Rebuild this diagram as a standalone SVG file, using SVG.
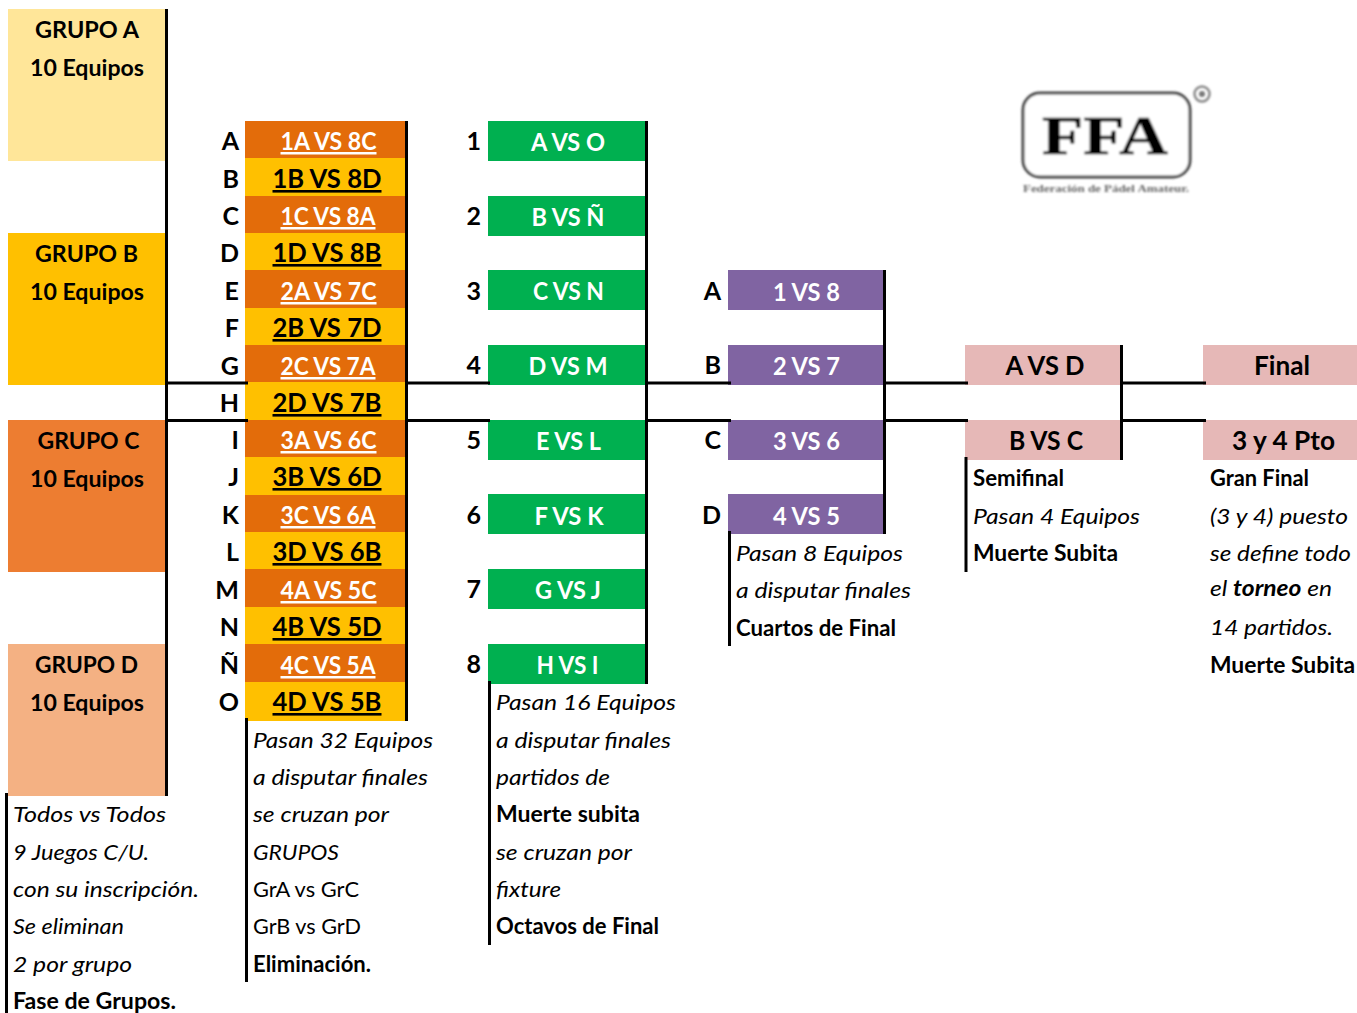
<svg xmlns="http://www.w3.org/2000/svg" width="1357" height="1013" viewBox="0 0 1357 1013">
<style>
text{font-family:Lato,"Open Sans","Liberation Sans",sans-serif;fill:#000;font-size:23px}
.b{font-weight:700}
.i{font-style:italic;font-size:22px}
.c{text-anchor:middle;font-weight:700}
.r{text-anchor:end;font-weight:700;font-size:25px}
.m{text-anchor:middle;font-weight:700;font-size:25px;text-decoration:underline;text-decoration-thickness:3px}
.w{fill:#fff}
.t{font-size:24px}
.p{font-size:26px}
.o{fill:#E36C0A}.y{fill:#FFC000}.g{fill:#00B050}.u{fill:#8064A2}.k{fill:#E6B8B7}
.l{stroke:#000;stroke-width:3;fill:none}
</style>
<defs><filter id="soft" x="-5%" y="-5%" width="110%" height="110%"><feGaussianBlur stdDeviation="0.9"/></filter></defs>

<g id="grupo-a"><rect x="8" y="9" width="157" height="152" fill="#FFE699"/><text class="c" x="87" y="38" textLength="104" lengthAdjust="spacingAndGlyphs">GRUPO A</text><text class="c" x="87" y="76" textLength="114" lengthAdjust="spacingAndGlyphs">10 Equipos</text></g>
<g id="grupo-b"><rect x="8" y="233" width="157" height="152" fill="#FFC000"/><text class="c" x="86.500" y="262" textLength="103" lengthAdjust="spacingAndGlyphs">GRUPO B</text><text class="c" x="87" y="300" textLength="114" lengthAdjust="spacingAndGlyphs">10 Equipos</text></g>
<g id="grupo-c"><rect x="8" y="420" width="157" height="152" fill="#ED7D31"/><text class="c" x="88.500" y="449" textLength="102" lengthAdjust="spacingAndGlyphs">GRUPO C</text><text class="c" x="87" y="487" textLength="114" lengthAdjust="spacingAndGlyphs">10 Equipos</text></g>
<g id="grupo-d"><rect x="8" y="644" width="157" height="152" fill="#F4B183"/><text class="c" x="86.500" y="673" textLength="103" lengthAdjust="spacingAndGlyphs">GRUPO D</text><text class="c" x="87" y="711" textLength="114" lengthAdjust="spacingAndGlyphs">10 Equipos</text></g>

<g id="cruces">
<g id="m-a"><rect x="245" y="121" width="160" height="37.500" class="o"/><text class="r" x="239" y="150">A</text><text class="m w" x="328.500" y="150" textLength="96" lengthAdjust="spacingAndGlyphs">1A VS 8C</text></g>
<g id="m-b"><rect x="245" y="158" width="160" height="38" class="y"/><text class="r" x="239" y="188">B</text><text class="m p" x="327" y="188" textLength="109" lengthAdjust="spacingAndGlyphs">1B VS 8D</text></g>
<g id="m-c"><rect x="245" y="196" width="160" height="37.500" class="o"/><text class="r" x="239" y="225">C</text><text class="m w" x="328" y="225" textLength="95" lengthAdjust="spacingAndGlyphs">1C VS 8A</text></g>
<g id="m-d"><rect x="245" y="233" width="160" height="37.500" class="y"/><text class="r" x="239" y="262">D</text><text class="m p" x="327" y="262" textLength="109" lengthAdjust="spacingAndGlyphs">1D VS 8B</text></g>
<g id="m-e"><rect x="245" y="270" width="160" height="38" class="o"/><text class="r" x="239" y="300">E</text><text class="m w" x="328.500" y="300" textLength="96" lengthAdjust="spacingAndGlyphs">2A VS 7C</text></g>
<g id="m-f"><rect x="245" y="308" width="160" height="37.500" class="y"/><text class="r" x="239" y="337">F</text><text class="m p" x="327" y="337" textLength="109" lengthAdjust="spacingAndGlyphs">2B VS 7D</text></g>
<g id="m-g"><rect x="245" y="345" width="160" height="37.500" class="o"/><text class="r" x="239" y="375">G</text><text class="m w" x="328" y="375" textLength="95" lengthAdjust="spacingAndGlyphs">2C VS 7A</text></g>
<g id="m-h"><rect x="245" y="382" width="160" height="38" class="y"/><text class="r" x="239" y="412">H</text><text class="m p" x="327" y="412" textLength="109" lengthAdjust="spacingAndGlyphs">2D VS 7B</text></g>
<g id="m-i"><rect x="245" y="420" width="160" height="37.500" class="o"/><text class="r" x="239" y="449">I</text><text class="m w" x="328.500" y="449" textLength="96" lengthAdjust="spacingAndGlyphs">3A VS 6C</text></g>
<g id="m-j"><rect x="245" y="457" width="160" height="38" class="y"/><text class="r" x="239" y="486">J</text><text class="m p" x="327" y="486" textLength="109" lengthAdjust="spacingAndGlyphs">3B VS 6D</text></g>
<g id="m-k"><rect x="245" y="495" width="160" height="37.500" class="o"/><text class="r" x="239" y="524">K</text><text class="m w" x="328" y="524" textLength="95" lengthAdjust="spacingAndGlyphs">3C VS 6A</text></g>
<g id="m-l"><rect x="245" y="532" width="160" height="37.500" class="y"/><text class="r" x="239" y="561">L</text><text class="m p" x="327" y="561" textLength="109" lengthAdjust="spacingAndGlyphs">3D VS 6B</text></g>
<g id="m-m"><rect x="245" y="569" width="160" height="38" class="o"/><text class="r" x="239" y="599">M</text><text class="m w" x="328.500" y="599" textLength="96" lengthAdjust="spacingAndGlyphs">4A VS 5C</text></g>
<g id="m-n"><rect x="245" y="607" width="160" height="37.500" class="y"/><text class="r" x="239" y="636">N</text><text class="m p" x="327" y="636" textLength="109" lengthAdjust="spacingAndGlyphs">4B VS 5D</text></g>
<g id="m-nn"><rect x="245" y="644" width="160" height="38" class="o"/><text class="r" x="239" y="674">Ñ</text><text class="m w" x="328" y="674" textLength="95" lengthAdjust="spacingAndGlyphs">4C VS 5A</text></g>
<g id="m-o"><rect x="245" y="682" width="160" height="39" class="y"/><text class="r" x="239" y="711">O</text><text class="m p" x="327" y="711" textLength="109" lengthAdjust="spacingAndGlyphs">4D VS 5B</text></g>
</g>

<g id="dieciseisavos">
<g id="n1"><rect x="488" y="121" width="157" height="40" class="g"/><text class="r" x="481" y="150">1</text><text class="c w t" x="568" y="151" textLength="74" lengthAdjust="spacingAndGlyphs">A VS O</text></g>
<g id="n2"><rect x="488" y="196" width="157" height="40" class="g"/><text class="r" x="481" y="225">2</text><text class="c w t" x="568" y="226" textLength="73" lengthAdjust="spacingAndGlyphs">B VS Ñ</text></g>
<g id="n3"><rect x="488" y="270" width="157" height="40" class="g"/><text class="r" x="481" y="300">3</text><text class="c w t" x="568.500" y="300" textLength="71" lengthAdjust="spacingAndGlyphs">C VS N</text></g>
<g id="n4"><rect x="488" y="345" width="157" height="40" class="g"/><text class="r" x="481" y="374">4</text><text class="c w t" x="568" y="375" textLength="79" lengthAdjust="spacingAndGlyphs">D VS M</text></g>
<g id="n5"><rect x="488" y="420" width="157" height="40" class="g"/><text class="r" x="481" y="449">5</text><text class="c w t" x="568.500" y="450" textLength="65" lengthAdjust="spacingAndGlyphs">E VS L</text></g>
<g id="n6"><rect x="488" y="494" width="157" height="40" class="g"/><text class="r" x="481" y="524">6</text><text class="c w t" x="569" y="525" textLength="69" lengthAdjust="spacingAndGlyphs">F VS K</text></g>
<g id="n7"><rect x="488" y="569" width="157" height="40" class="g"/><text class="r" x="481" y="598">7</text><text class="c w t" x="568" y="599" textLength="66" lengthAdjust="spacingAndGlyphs">G VS J</text></g>
<g id="n8"><rect x="488" y="644" width="157" height="40" class="g"/><text class="r" x="481" y="673">8</text><text class="c w t" x="567.500" y="674" textLength="62" lengthAdjust="spacingAndGlyphs">H VS I</text></g>
</g>

<g id="cuartos">
<g id="qa"><rect x="728" y="270" width="155" height="40" class="u"/><text class="r" x="721" y="300">A</text><text class="c w t" x="806.500" y="301" textLength="67" lengthAdjust="spacingAndGlyphs">1 VS 8</text></g>
<g id="qb"><rect x="728" y="345" width="155" height="40" class="u"/><text class="r" x="721" y="374">B</text><text class="c w t" x="806.500" y="375" textLength="67" lengthAdjust="spacingAndGlyphs">2 VS 7</text></g>
<g id="qc"><rect x="728" y="420" width="155" height="40" class="u"/><text class="r" x="721" y="449">C</text><text class="c w t" x="806.500" y="450" textLength="67" lengthAdjust="spacingAndGlyphs">3 VS 6</text></g>
<g id="qd"><rect x="728" y="494" width="155" height="40" class="u"/><text class="r" x="721" y="524">D</text><text class="c w t" x="806.500" y="525" textLength="67" lengthAdjust="spacingAndGlyphs">4 VS 5</text></g>
</g>

<g id="semifinal">
<g id="sa"><rect x="965" y="345" width="155" height="40" class="k"/><text class="c p" x="1045" y="375" textLength="79" lengthAdjust="spacingAndGlyphs">A VS D</text></g>
<g id="sb"><rect x="965" y="420" width="155" height="40" class="k"/><text class="c p" x="1046" y="450" textLength="74" lengthAdjust="spacingAndGlyphs">B VS C</text></g>
</g>
<g id="final">
<g id="fa"><rect x="1203" y="345" width="154" height="40" class="k"/><text class="c p" x="1282" y="375" textLength="56" lengthAdjust="spacingAndGlyphs">Final</text></g>
<g id="fb"><rect x="1203" y="420" width="154" height="40" class="k"/><text class="c p" x="1283.500" y="450" textLength="103" lengthAdjust="spacingAndGlyphs">3 y 4 Pto</text></g>
</g>

<g id="conectores">
<path class="l" d="M166.500 9V796M406.500 121V721M646.500 121V684M884.500 270V534M1121.500 345V460"/>
<path class="l" d="M167 383H248M167 420.500H248M408 383H490M408 420.500H490M648 383H731M648 420.500H731M886 383H968M886 420.500H968M1122 383H1206M1122 420.500H1206"/>
<path class="l" d="M6.500 793V1013M246.500 718V982M489.500 681V945M729.500 531V646M966 457V572"/>
</g>

<g id="nota-grupos">
<text class="i" x="13" y="822" textLength="153" lengthAdjust="spacingAndGlyphs">Todos vs Todos</text>
<text class="i" x="13" y="860" textLength="136" lengthAdjust="spacingAndGlyphs">9 Juegos C/U.</text>
<text class="i" x="13" y="897" textLength="186" lengthAdjust="spacingAndGlyphs">con su inscripción.</text>
<text class="i" x="13" y="934" textLength="111" lengthAdjust="spacingAndGlyphs">Se eliminan</text>
<text class="i" x="13" y="972" textLength="119" lengthAdjust="spacingAndGlyphs">2 por grupo</text>
<text class="b" x="13" y="1009" textLength="163" lengthAdjust="spacingAndGlyphs">Fase de Grupos.</text>
</g>
<g id="nota-eliminacion">
<text class="i" x="253" y="748" textLength="180" lengthAdjust="spacingAndGlyphs">Pasan 32 Equipos</text>
<text class="i" x="253" y="785" textLength="175" lengthAdjust="spacingAndGlyphs">a disputar finales</text>
<text class="i" x="253" y="822" textLength="136" lengthAdjust="spacingAndGlyphs">se cruzan por</text>
<text class="i" x="253" y="860" textLength="86" lengthAdjust="spacingAndGlyphs">GRUPOS</text>
<text x="253" y="897" style="font-size:22px" textLength="106" lengthAdjust="spacingAndGlyphs">GrA vs GrC</text>
<text x="253" y="934" style="font-size:22px" textLength="108" lengthAdjust="spacingAndGlyphs">GrB vs GrD</text>
<text class="b" x="253" y="972" textLength="118" lengthAdjust="spacingAndGlyphs">Eliminación.</text>
</g>
<g id="nota-octavos">
<text class="i" x="496" y="710" textLength="180" lengthAdjust="spacingAndGlyphs">Pasan 16 Equipos</text>
<text class="i" x="496" y="748" textLength="175" lengthAdjust="spacingAndGlyphs">a disputar finales</text>
<text class="i" x="496" y="785" textLength="114" lengthAdjust="spacingAndGlyphs">partidos de</text>
<text class="b" x="496" y="822" textLength="144" lengthAdjust="spacingAndGlyphs">Muerte subita</text>
<text class="i" x="496" y="860" textLength="136" lengthAdjust="spacingAndGlyphs">se cruzan por</text>
<text class="i" x="496" y="897" textLength="65" lengthAdjust="spacingAndGlyphs">fixture</text>
<text class="b" x="496" y="934" textLength="163" lengthAdjust="spacingAndGlyphs">Octavos de Final</text>
</g>
<g id="nota-cuartos">
<text class="i" x="736" y="561" textLength="167" lengthAdjust="spacingAndGlyphs">Pasan 8 Equipos</text>
<text class="i" x="736" y="598" textLength="175" lengthAdjust="spacingAndGlyphs">a disputar finales</text>
<text class="b" x="736" y="636" textLength="160" lengthAdjust="spacingAndGlyphs">Cuartos de Final</text>
</g>
<g id="nota-semifinal">
<text class="b" x="973" y="486" textLength="91" lengthAdjust="spacingAndGlyphs">Semifinal</text>
<text class="i" x="973" y="524" textLength="167" lengthAdjust="spacingAndGlyphs">Pasan 4 Equipos</text>
<text class="b" x="973" y="561" textLength="145" lengthAdjust="spacingAndGlyphs">Muerte Subita</text>
</g>
<g id="nota-final">
<text class="b" x="1210" y="486" textLength="99" lengthAdjust="spacingAndGlyphs">Gran Final</text>
<text class="i" x="1210" y="524" textLength="138" lengthAdjust="spacingAndGlyphs">(3 y 4) puesto</text>
<text class="i" x="1210" y="561" textLength="141" lengthAdjust="spacingAndGlyphs">se define todo</text>
<text class="i" x="1210" y="596" textLength="122" lengthAdjust="spacingAndGlyphs">el <tspan font-weight="700">torneo</tspan> en</text>
<text class="i" x="1210" y="635" textLength="123" lengthAdjust="spacingAndGlyphs">14 partidos.</text>
<text class="b" x="1210" y="673" textLength="145" lengthAdjust="spacingAndGlyphs">Muerte Subita</text>
</g>

<g id="logo" filter="url(#soft)">
<rect x="1023" y="93" width="167" height="84" rx="17" fill="#fff" stroke="#444" stroke-width="3"/>
<text x="1105" y="154" text-anchor="middle" textLength="126" lengthAdjust="spacingAndGlyphs" style="font-family:'Liberation Serif',serif;font-size:54px;font-weight:700;stroke:#000;stroke-width:.6">FFA</text>
<text x="1106" y="192" text-anchor="middle" textLength="166" lengthAdjust="spacingAndGlyphs" style="font-family:'Liberation Serif',serif;font-size:10px;font-weight:700;fill:#666">Federación de Pádel Amateur.</text>
<circle cx="1202" cy="94" r="7.500" fill="none" stroke="#888" stroke-width="2.500"/>
<circle cx="1202" cy="94" r="3" fill="#777"/>
</g>
</svg>
